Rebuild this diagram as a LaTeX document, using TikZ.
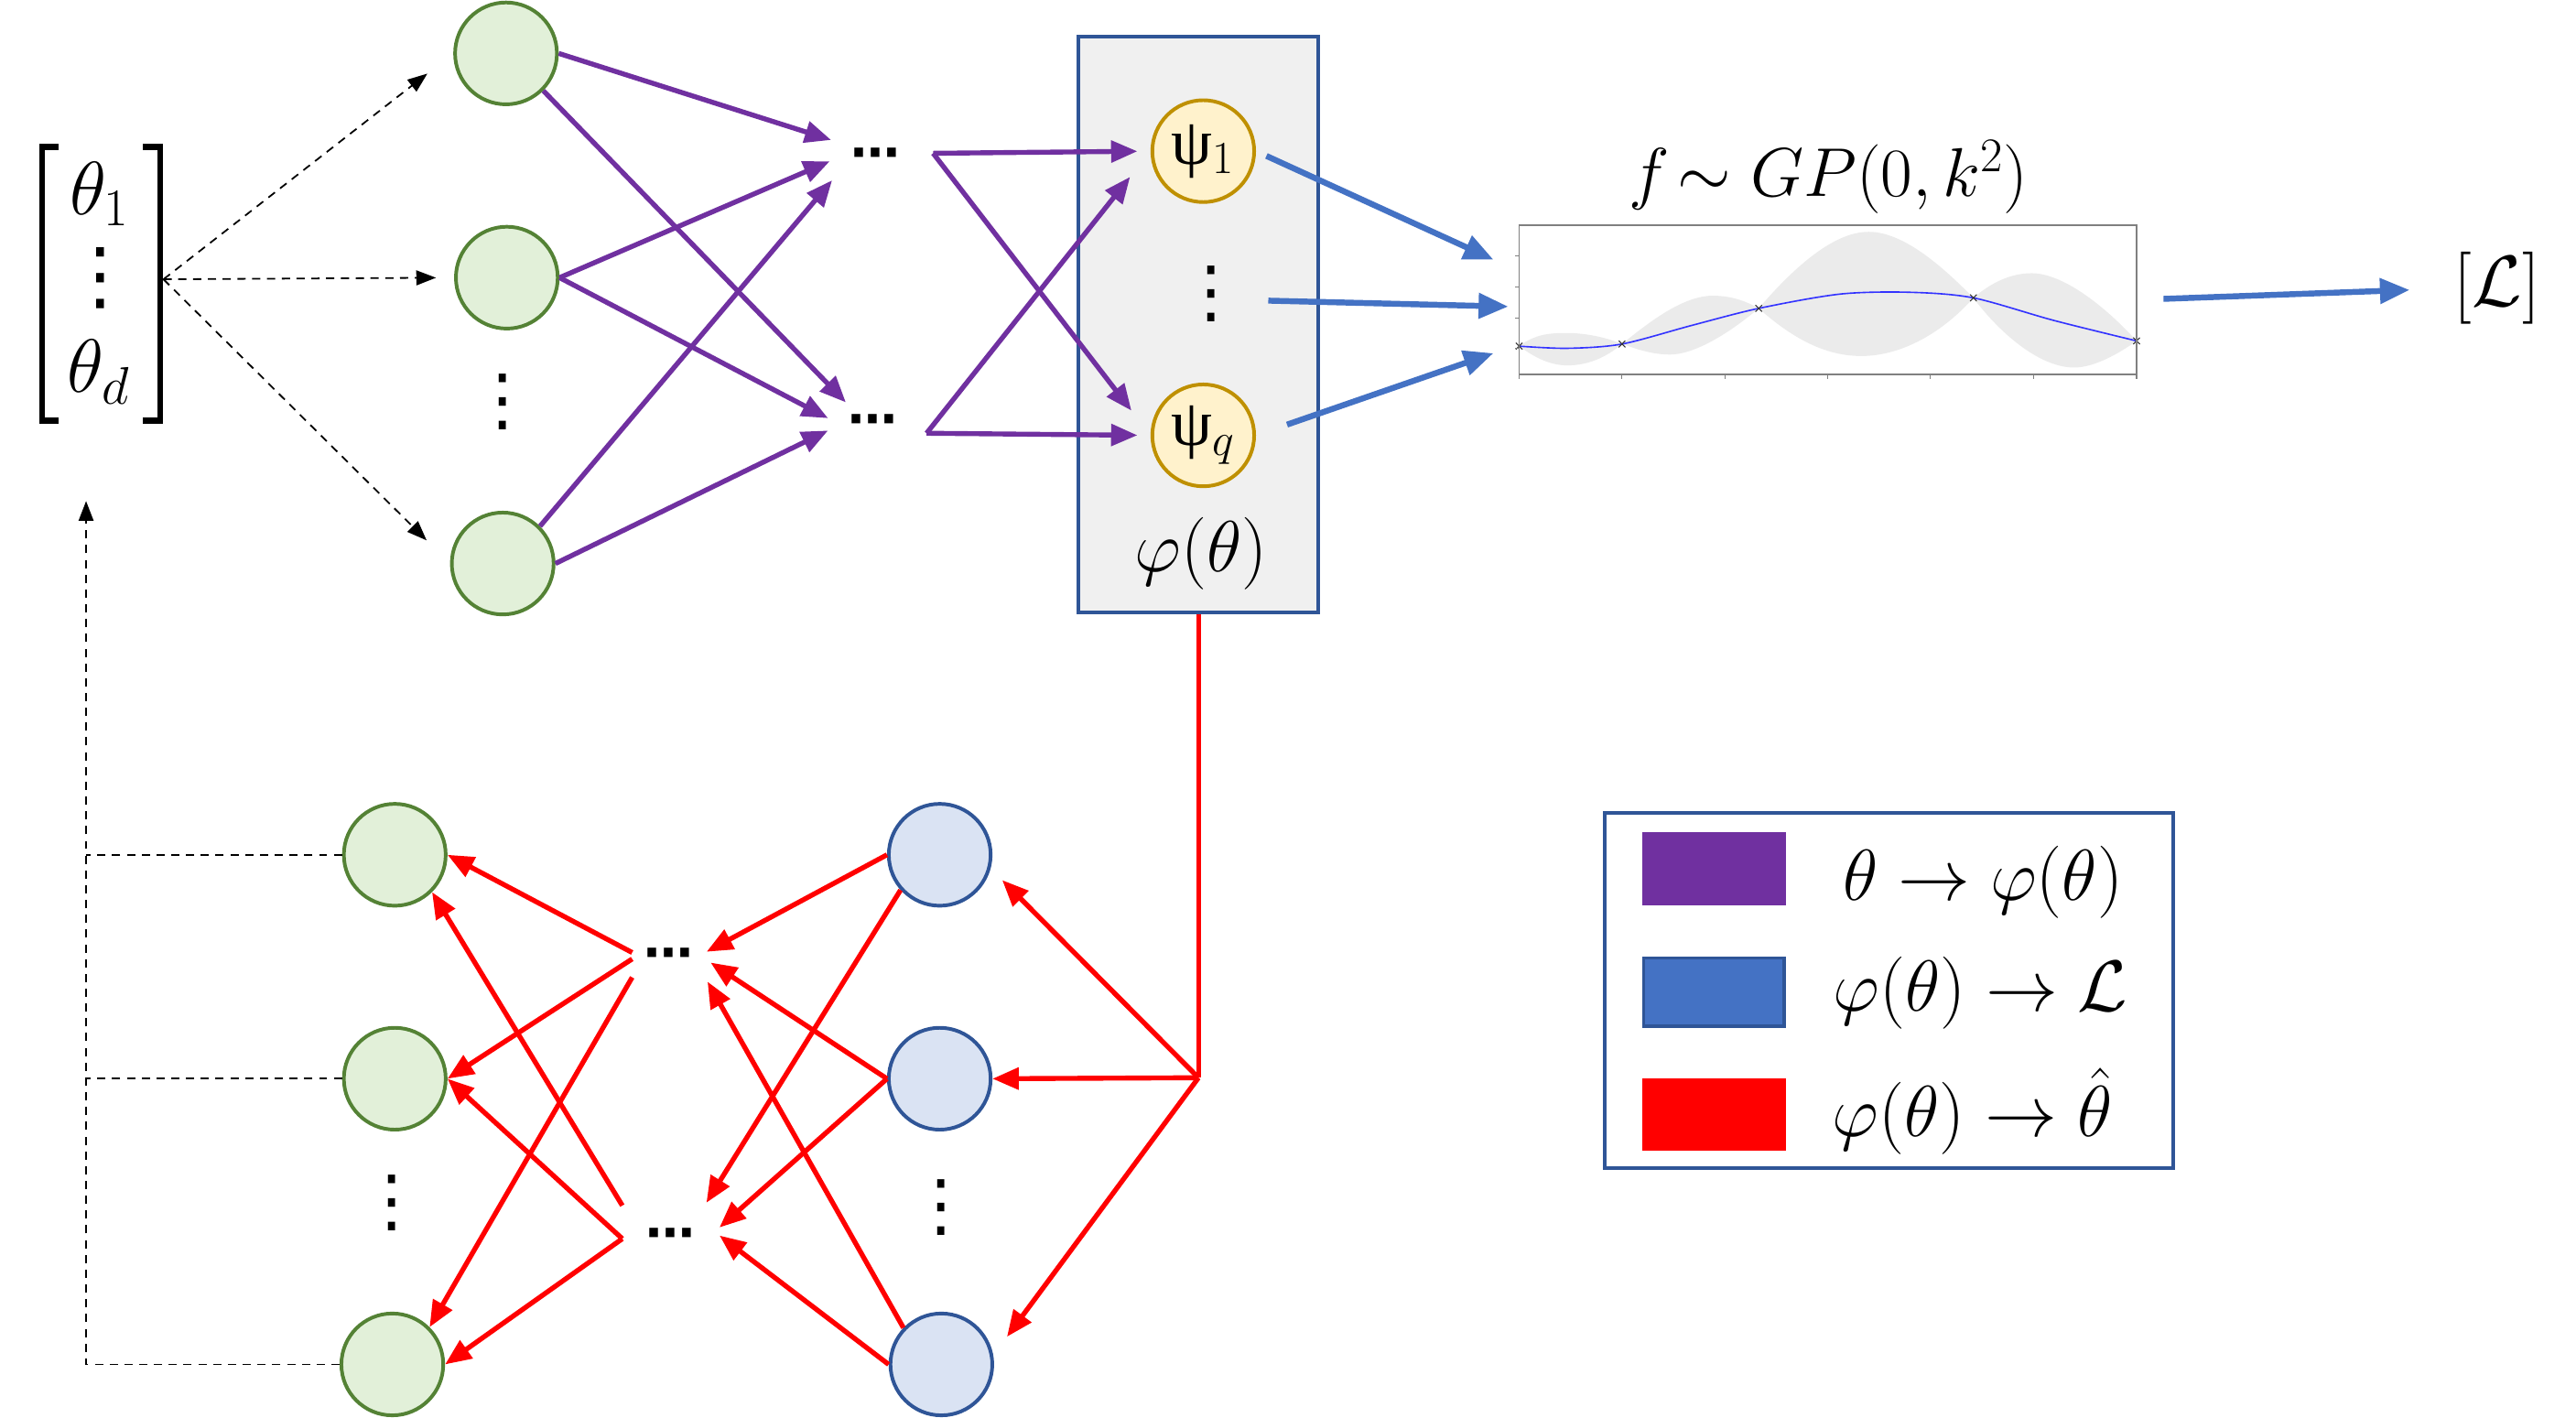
\RequirePackage{fix-cm}
\documentclass[tikz,border=0pt]{standalone}
\usepackage{fontspec}
\newfontfamily\djv{DejaVu Sans}
\newfontfamily\grk{Liberation Serif}
\usetikzlibrary{arrows.meta,calc}
\definecolor{cpurple}{HTML}{7030A0}
\definecolor{cblue}{HTML}{4472C4}
\definecolor{cred}{HTML}{FF0000}
\definecolor{cgreen}{HTML}{E2F0D9}
\definecolor{cgreenb}{HTML}{548235}
\definecolor{cbluen}{HTML}{DAE3F3}
\definecolor{cdarkblue}{HTML}{2F5597}
\definecolor{cyellow}{HTML}{FFF2CC}
\definecolor{cyellowb}{HTML}{BF9000}
\definecolor{cbox}{HTML}{F0F0F0}
\definecolor{cband}{HTML}{EBEBEB}
\definecolor{cmean}{HTML}{3333FF}
\tikzset{
  gnode/.style={circle, draw=cgreenb, fill=cgreen, line width=2.2pt, minimum size=62pt, inner sep=0pt},
  bnode/.style={circle, draw=cdarkblue, fill=cbluen, line width=2.2pt, minimum size=62pt, inner sep=0pt},
  ynode/.style={circle, draw=cyellowb, fill=cyellow, line width=2.2pt, minimum size=62pt, inner sep=0pt, font=\fontsize{40}{44}\selectfont},
  parr/.style={draw=cpurple, line width=3pt, -{Triangle[length=16pt,width=13pt]}},
  barr/.style={draw=cblue, line width=3.6pt, -{Triangle[length=18pt,width=15pt]}},
  rarr/.style={draw=cred, line width=3pt, -{Triangle[length=16pt,width=13pt]}},
  darr/.style={draw=black, line width=1pt, dash pattern=on 5pt off 4pt, -{Triangle[length=12pt,width=9pt]}},
  dline/.style={draw=black, line width=1pt, dash pattern=on 5pt off 4pt},
  dotsbox/.style={rectangle, inner sep=0pt, font=\djv\bfseries\fontsize{30}{34}\selectfont},
  vdotsnode/.style={inner sep=0pt, font=\djv\fontsize{42}{46}\selectfont},
  bigmath/.style={anchor=base, inner sep=0pt, font=\fontsize{44}{50}\selectfont},
}
\begin{document}
\begin{tikzpicture}[x=1pt,y=-1pt]
\useasboundingbox (0,0) rectangle (1568,863);

% ---------- input vector ----------
\draw[line width=3.5pt] (35.5,89.5) -| (25.8,256) -- (35.5,256);
\draw[line width=3.5pt] (87,89.5) -| (97.7,256) -- (87,256);
\node[bigmath, font=\fontsize{46}{50}\selectfont] (th1) at (60.5,130.6) {$\theta_1$};
\node[vdotsnode, font=\djv\fontsize{46}{50}\selectfont] (thv) at (61,169.5) {⋮};
\node[bigmath, font=\fontsize{46}{50}\selectfont] (thd) at (60,239) {$\theta_d$};
\coordinate (vr) at (99.5,170);
\coordinate (uptip) at (52.4,305);

% ---------- encoder (top) ----------
\node[gnode] (g1) at (308,32.5) {};
\node[gnode] (g2) at (308.5,169) {};
\node[gnode] (g3) at (306,343) {};
\node[vdotsnode] (gv) at (306,244.5) {⋮};

\node[dotsbox, minimum width=50pt, minimum height=22pt] (d1) at (533,97) {⋯};
\node[dotsbox, minimum width=50pt, minimum height=22pt] (d2) at (531,259) {⋯};
\coordinate (d1o) at (568,93.3);
\coordinate (d2o) at (564,263.7);

\node[draw=cdarkblue, fill=cbox, line width=2.2pt, minimum width=145.7pt, minimum height=350.6pt, inner sep=0pt] (box) at (729.5,197.7) {};
\node[ynode] (p1) at (732.4,92) {{\grk ψ}$_1$};
\node[ynode] (pq) at (732.4,265) {{\grk ψ}$_q$};
\node[vdotsnode] (pv) at (737.4,179) {⋮};
\node[bigmath] (phil) at (731,347.8) {$\varphi(\theta)$};

% ---------- GP plot ----------
\fill[cband] (924.7,210.7) .. controls (935,203) and (944,202.7) .. (954,202.7)
  .. controls (964,202.7) and (977,205) .. (987.3,209.4)
  .. controls (977,218) and (966,222.4) .. (954,222.4)
  .. controls (942,222.4) and (932,216) .. cycle;
\fill[cband] (987.3,209.4) .. controls (1005,195) and (1025,180) .. (1042.5,180)
  .. controls (1055,180) and (1064,184) .. (1070.5,187.7)
  .. controls (1050,205) and (1030,215.8) .. (1016.6,215.8)
  .. controls (1005,215.8) and (995,212) .. cycle;
\fill[cband] (1070.5,187.7) .. controls (1090,165) and (1115,141.1) .. (1137.4,141.1)
  .. controls (1160,141.1) and (1185,165) .. (1201.2,181.3)
  .. controls (1180,205) and (1155,216.7) .. (1133,216.7)
  .. controls (1110,216.7) and (1090,205) .. cycle;
\fill[cband] (1201.2,181.3) .. controls (1212,172) and (1224,166.3) .. (1236.6,166.3)
  .. controls (1255,166.3) and (1280,185) .. (1300.5,207.5)
  .. controls (1290,215) and (1275,223.7) .. (1262.5,223.7)
  .. controls (1240,223.7) and (1215,200) .. cycle;
\draw[cmean, line width=0.9pt] plot[smooth] coordinates {(924.7,210.7) (954,212) (987.3,209.4) (1030,198) (1070.5,187.7) (1120,179) (1162.4,177.9) (1201.2,181.3) (1250,195) (1300.5,207.5)};
\foreach \px/\py in {924.7/210.7, 987.3/209.4, 1070.5/187.7, 1201.2/181.3, 1300.5/207.5}
  \draw[black!80, line width=0.6pt] (\px,\py) +(-2,-2) -- +(2,2) +(-2,2) -- +(2,-2);
\node[draw=gray, line width=0.8pt, minimum width=375.8pt, minimum height=91pt, inner sep=0pt] (plot) at (1112.6,182.5) {};
\foreach \tx in {924.7, 987.3, 1050.3, 1112.4, 1175, 1237.9, 1300.5}
  \draw[gray, line width=0.6pt] (\tx,228) -- (\tx,230.5);
\foreach \ty in {155.8, 174.9, 193.8, 212}
  \draw[gray, line width=0.6pt] (924.7,\ty) -- (922.2,\ty);
\node[bigmath, font=\fontsize{42}{48}\selectfont] (fgp) at (1113,119.6) {$f\!\sim GP(0,k^2)$};
\node[bigmath, font=\fontsize{44}{48}\selectfont] (L) at (1520,186.5) {$[\mathcal{L}]$};

% ---------- decoder (bottom) ----------
\node[gnode] (n1) at (240.3,520.3) {};
\node[gnode] (n2) at (240.3,656.6) {};
\node[gnode] (n3) at (238.8,830.5) {};
\node[vdotsnode] (nv) at (238.8,732) {⋮};
\node[bnode] (b1) at (572,520.3) {};
\node[bnode] (b2) at (572,656.6) {};
\node[bnode] (b3) at (573,830.5) {};
\node[vdotsnode] (bv) at (573,735) {⋮};
\node[dotsbox, minimum width=44pt, minimum height=22pt] (d3) at (407,583.7) {⋯};
\node[dotsbox, minimum width=58pt, minimum height=40pt] (d4) at (408,754) {⋯};
\coordinate (j) at (729.5,656);

% ---------- legend ----------
\node[draw=cdarkblue, line width=2.2pt, minimum width=346pt, minimum height=216pt, inner sep=0pt] (leg) at (1150,603) {};
\node[fill=cpurple, minimum width=87.5pt, minimum height=44.7pt, inner sep=0pt] (lp) at (1043.2,528.9) {};
\node[fill=cblue, draw=cdarkblue, line width=2pt, minimum width=85.5pt, minimum height=41.7pt, inner sep=0pt] (lb) at (1043.2,603.9) {};
\node[fill=cred, minimum width=87.5pt, minimum height=44.2pt, inner sep=0pt] (lr) at (1043.2,678.5) {};
\node[bigmath] (lt1) at (1207,548.2) {$\theta\to\varphi(\theta)$};
\node[bigmath] (lt2) at (1205.5,615.4) {$\varphi(\theta)\to\mathcal{L}$};
\node[bigmath] (lt3) at (1200.5,692) {$\varphi(\theta)\to\hat{\theta}$};

% ---------- connectors: input ----------
\draw[darr, shorten >=20pt] (vr) -- (g1.west);
\draw[darr, shorten >=11pt] (vr) -- (g2.west);
\draw[darr, shorten >=20pt] (vr) -- (g3.west);

% purple
\draw[parr, shorten >=2pt] (g1.east) -- (d1.north west);
\draw[parr, shorten >=4pt] (g1.-45) -- (d2.140);
\draw[parr, shorten >=3pt] (g2.east) -- (d1.west);
\draw[parr, shorten >=2pt] (g2.east) -- (d2.172);
\draw[parr, shorten >=2pt] (g3.45) -- (d1.south west);
\draw[parr, shorten >=2pt] (g3.east) -- (d2.185);
\draw[parr, shorten >=8pt] (d1o) -- (p1.west);
\draw[parr, shorten >=19pt] (d1o) -- (pq.180);
\draw[parr, shorten >=8pt] (d2o) -- (pq.west);
\draw[parr, shorten >=20pt] (d2o) -- (p1.180);

% blue
\coordinate (bt1) at (909,158);
\coordinate (bt2) at (918,186.6);
\coordinate (bt3) at (909,215);
\coordinate (bs2) at (772,183);
\draw[barr, shorten <=7pt] (p1.east) -- (bt1);
\draw[barr] (bs2) -- (bt2);
\draw[barr, shorten <=20pt] (pq.east) -- (bt3);
\draw[barr, shorten <=16pt, shorten >=27pt] (plot.east) -- (L.west);

% red
\draw[cred, line width=3pt] (box.south) -- (j);
\draw[rarr, shorten >=10pt] (j) -- (b1.-15);
\draw[rarr] (j) -- (b2.east);
\draw[rarr, shorten >=14pt] (j) -- (b3.10);
\draw[rarr, shorten >=1pt] (b1.west) -- (d3.10);
\draw[rarr, shorten >=4pt] (b2.west) -- (d3.east);
\draw[rarr, shorten >=3pt] (b3.136) -- (d3.south east);
\draw[rarr, shorten >=2pt] (b1.222) -- (d4.44);
\draw[rarr, shorten >=1pt] (b2.west) -- (d4.12);
\draw[rarr, shorten >=1pt] (b3.west) -- (d4.5);
\draw[rarr] (d3.170) -- (n1.east);
\draw[rarr] (d3.west) -- (n2.east);
\draw[rarr] (d3.south west) -- (n3.45);
\draw[rarr] (d4.north west) -- (n1.-45);
\draw[rarr] (d4.west) -- (n2.east);
\draw[rarr] (d4.west) -- (n3.east);

% dashed feedback
\draw[dline] (n1.west) -- (n1.west -| uptip);
\draw[dline] (n2.west) -- (n2.west -| uptip);
\draw[darr] (n3.west) -- (n3.west -| uptip) -- (uptip);
\end{tikzpicture}
\end{document}
